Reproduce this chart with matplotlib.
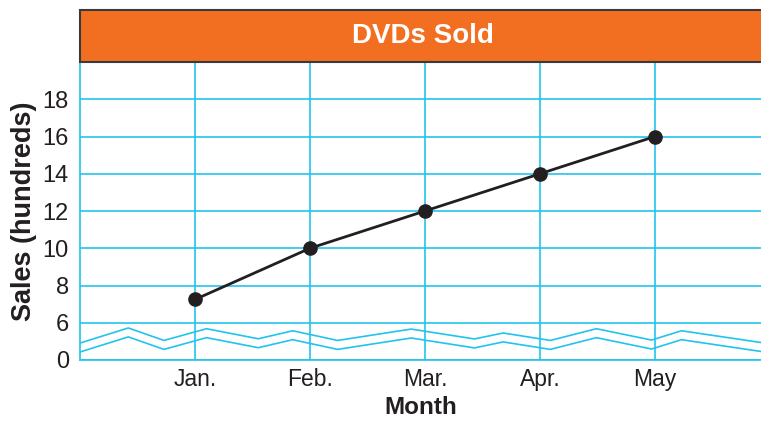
import matplotlib.pyplot as plt
from matplotlib.patches import Rectangle

plt.rcParams['font.family'] = ['Liberation Sans', 'DejaVu Sans']

months = ['Jan.', 'Feb.', 'Mar.', 'Apr.', 'May']
month_pos = [1, 2, 3, 4, 5]
sales = [7.25, 10, 12, 14, 16]

# y scale is broken between 0 and 6: the "0" row sits one step below 6
y_ticks = [4, 6, 8, 10, 12, 14, 16, 18]
y_labels = ['0', '6', '8', '10', '12', '14', '16', '18']

# zigzag break marks (upper edge; the lower edge is shifted down)
zig_x = [0, 0.42, 0.73, 1.10, 1.55, 1.85, 2.24, 2.88, 3.43, 3.68, 4.09, 4.49, 4.97, 5.23, 5.92]
zig_y = [4.91, 5.72, 5.05, 5.68, 5.14, 5.57, 5.05, 5.66, 5.13, 5.45, 5.05, 5.68, 5.07, 5.57, 4.94]
zig_gap = 0.48

cyan = '#22C3EE'
orange = '#F26F22'
ink = '#231F20'

W, H = 761, 422
fig = plt.figure(figsize=(W / 100, H / 100), dpi=100)

left = 80 / W
ax = fig.add_axes([left, 1 - 360 / H, 1 - left, (360 - 62) / H])
ax.set_xlim(0, 681 / 115)
ax.set_ylim(4, 20)

for y in y_ticks:
    ax.axhline(y, color=cyan, lw=1.2, zorder=1)
for x in month_pos:
    ax.axvline(x, color=cyan, lw=1.2, zorder=1)

ax.plot(zig_x, zig_y, color=cyan, lw=1.2, zorder=2)
ax.plot(zig_x, [v - zig_gap for v in zig_y], color=cyan, lw=1.2, zorder=2)

ax.plot(month_pos, sales, color=ink, lw=2, marker='o', ms=9.5, zorder=3)

for s in ['top', 'right']:
    ax.spines[s].set_visible(False)
for s in ['left', 'bottom']:
    ax.spines[s].set_color(cyan)
    ax.spines[s].set_linewidth(1.2)

ax.set_xticks(month_pos)
ax.set_xticklabels(months, fontsize=16.5, color=ink)
ax.set_yticks(y_ticks)
ax.set_yticklabels(y_labels, fontsize=17, color=ink)
ax.tick_params(length=0)
ax.tick_params(axis='y', pad=8)
ax.tick_params(axis='x', pad=6)

ax.set_xlabel('Month', fontsize=17.5, fontweight='bold', color=ink, labelpad=3)
ax.set_ylabel('Sales (hundreds)', fontsize=19.5, fontweight='bold', color=ink, labelpad=4)

# title bar
tax = fig.add_axes([left, 1 - 62 / H, 1 - left, 52 / H])
tax.set_xlim(0, 1)
tax.set_ylim(0, 1)
tax.axis('off')
tax.add_patch(Rectangle((0, 0), 1.2, 1, facecolor=orange, edgecolor='#3A3A3A',
                        lw=1.5, clip_on=False))
tax.text((423 - 80) / 681, 0.5, 'DVDs Sold', color='white', fontsize=20,
         fontweight='bold', ha='center', va='center')

fig.savefig('out.png', dpi=100)
